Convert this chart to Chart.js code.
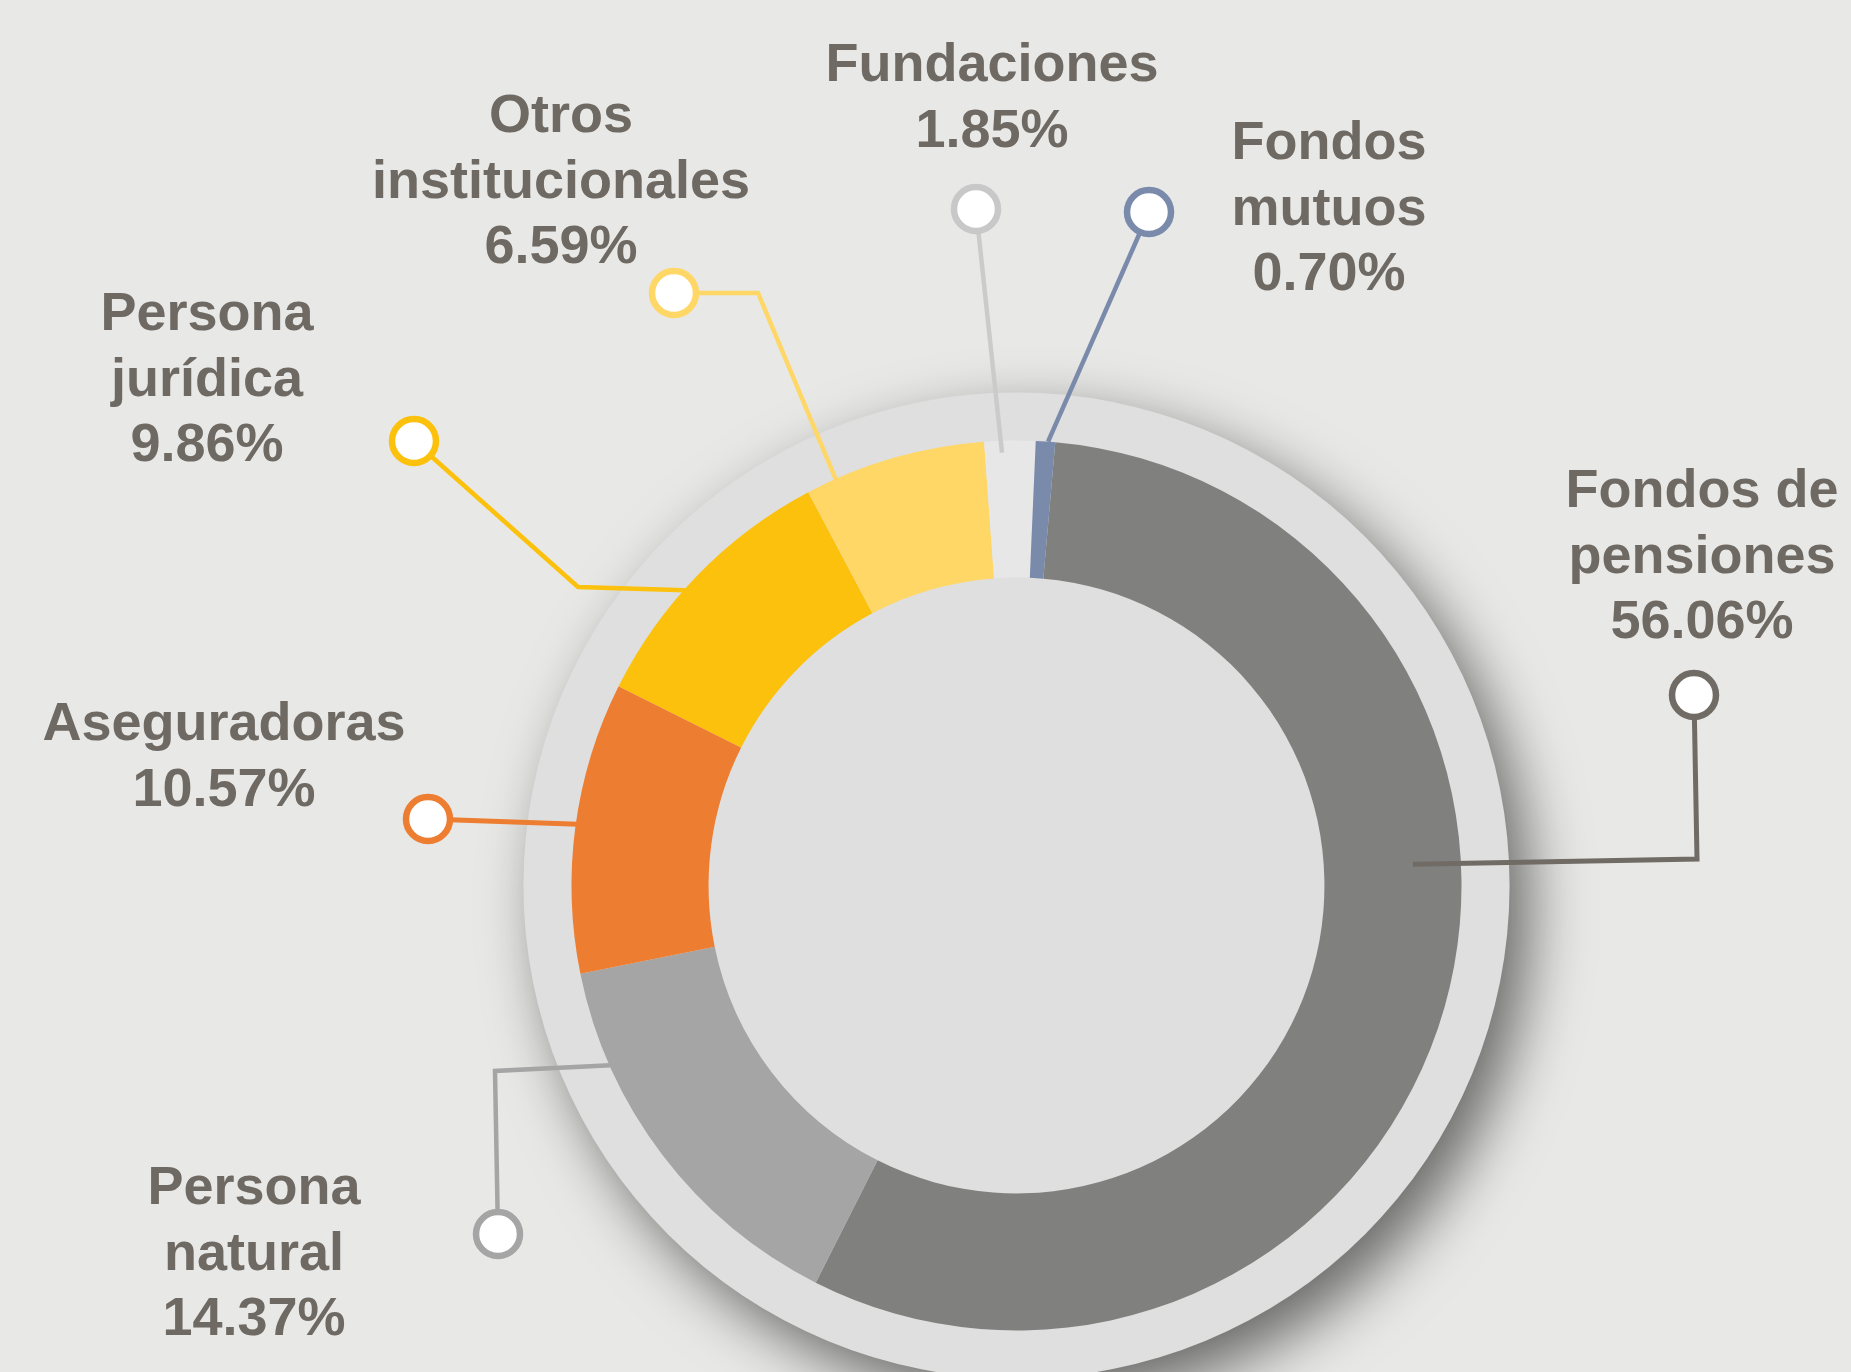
<!DOCTYPE html>
<html lang="es">
<head>
<meta charset="utf-8">
<title>Composición accionaria</title>
<script src="https://cdn.jsdelivr.net/npm/chart.js@4.4.1/dist/chart.umd.min.js"></script>
<style>
  html, body { margin: 0; padding: 0; background: #e8e8e6; }
  #wrap { position: relative; width: 1851px; height: 1372px; }
</style>
</head>
<body>
<div id="wrap"><canvas id="dona"></canvas></div>
<script>
// Datos del gráfico (en orden horario desde arriba)
const categorias = ['Fondos de pensiones', 'Persona natural', 'Aseguradoras', 'Persona jurídica', 'Otros institucionales', 'Fundaciones', 'Fondos mutuos'];
const porcentajes = [56.06, 14.37, 10.57, 9.86, 6.59, 1.85, 0.70];
const colores = ['#80817f', '#a5a5a5', '#ed7d31', '#fcc10c', '#ffd766', '#e8e7e8', '#7a8aab'];
// Texto de cada etiqueta, partido en líneas
const lineasEtiqueta = [['Fondos de', 'pensiones'], ['Persona', 'natural'], ['Aseguradoras'], ['Persona', 'jurídica'], ['Otros', 'institucionales'], ['Fundaciones'], ['Fondos', 'mutuos']];

// Posición de cada etiqueta y de su línea guía (solo maquetación)
// f = fracción del arco donde toca la línea, rr = radio relativo al exterior
const guias = [
  { tx: 1702, ty: 507, mx: 1694, my: 695, codo: [1697, 859], f: 0.406, rr: 0.892, color: '#716b65', ancho: 5, aro: '#716b65' },
  { tx: 254, ty: 1204, mx: 498, my: 1234, codo: [495, 1071], f: 0.76, rr: 0.998, color: '#a5a5a5', ancho: 4.5, aro: '#a5a5a5' },
  { tx: 224, ty: 740, mx: 428, my: 819, codo: null, f: 0.51, rr: 0.995, color: '#ed7d31', ancho: 5, aro: '#ed7d31' },
  { tx: 207, ty: 330, mx: 414, my: 441, codo: [578, 587], f: 0.425, rr: 0.998, color: '#fcc10c', ancho: 4.5, aro: '#fcc10c' },
  { tx: 561, ty: 132, mx: 674, my: 293, codo: [758, 293], f: 0.165, rr: 0.998, color: '#ffd766', ancho: 4.5, aro: '#ffd766' },
  { tx: 992, ty: 81, mx: 976, my: 209, codo: null, f: 0.34, rr: 0.973, color: '#cbcbcb', ancho: 4.5, aro: '#c8c8c8' },
  { tx: 1329, ty: 159, mx: 1149, my: 212, codo: null, f: 0.63, rr: 1.0, color: '#7a8aab', ancho: 4.5, aro: '#7a8aab' }
];

// Círculo de fondo con sombra detrás de la dona
const fondoCirculo = {
  id: 'fondoCirculo',
  beforeDatasetsDraw(chart) {
    const arc = chart.getDatasetMeta(0).data[0];
    const { x, y, outerRadius } = arc.getProps(['x', 'y', 'outerRadius'], true);
    const ctx = chart.ctx;
    ctx.save();
    ctx.shadowColor = 'rgba(0, 0, 0, 0.55)';
    ctx.shadowBlur = 60;
    ctx.shadowOffsetX = 20;
    ctx.shadowOffsetY = 24;
    ctx.beginPath();
    ctx.arc(x, y, outerRadius * 1.108, 0, Math.PI * 2);
    ctx.fillStyle = '#dfdfdf';
    ctx.fill();
    ctx.restore();
  }
};

// Líneas guía, marcadores y textos
const etiquetasGuia = {
  id: 'etiquetasGuia',
  afterDatasetsDraw(chart) {
    const ctx = chart.ctx;
    const meta = chart.getDatasetMeta(0);
    meta.data.forEach((arc, i) => {
      const g = guias[i];
      const p = arc.getProps(['x', 'y', 'startAngle', 'endAngle', 'outerRadius'], true);
      const ang = p.startAngle + g.f * (p.endAngle - p.startAngle);
      const ax = p.x + Math.cos(ang) * p.outerRadius * g.rr;
      const ay = p.y + Math.sin(ang) * p.outerRadius * g.rr;

      ctx.save();
      ctx.strokeStyle = g.color;
      ctx.lineWidth = g.ancho;
      ctx.lineJoin = 'miter';
      ctx.beginPath();
      ctx.moveTo(g.mx, g.my);
      if (g.codo) ctx.lineTo(g.codo[0], g.codo[1]);
      ctx.lineTo(ax, ay);
      ctx.stroke();

      ctx.beginPath();
      ctx.arc(g.mx, g.my, 22, 0, Math.PI * 2);
      ctx.fillStyle = '#ffffff';
      ctx.fill();
      ctx.lineWidth = 6.5;
      ctx.strokeStyle = g.aro;
      ctx.stroke();

      ctx.font = 'bold 54px "Liberation Sans", Arial, sans-serif';
      ctx.fillStyle = '#6e6963';
      ctx.textAlign = 'center';
      ctx.textBaseline = 'alphabetic';
      const lineas = lineasEtiqueta[i].concat([porcentajes[i].toFixed(2) + '%']);
      lineas.forEach((t, k) => ctx.fillText(t, g.tx, g.ty + k * 65.5));
      ctx.restore();
    });
  }
};

const ctx = document.getElementById('dona').getContext('2d');
window.grafico = new Chart(ctx, {
  type: 'doughnut',
  data: {
    labels: categorias,
    datasets: [{
      data: porcentajes,
      backgroundColor: colores,
      borderWidth: 0,
      hoverOffset: 0,
      offset: 0
    }]
  },
  options: {
    responsive: true,
    maintainAspectRatio: false,
    animation: false,
    events: [],
    rotation: 5,
    cutout: '69.2%',
    layout: {
      padding: { left: 571.5, right: 389.5, top: 440.5, bottom: 41.5 }
    },
    plugins: {
      legend: { display: false },
      tooltip: { enabled: false }
    }
  },
  plugins: [fondoCirculo, etiquetasGuia]
});
</script>
</body>
</html>
